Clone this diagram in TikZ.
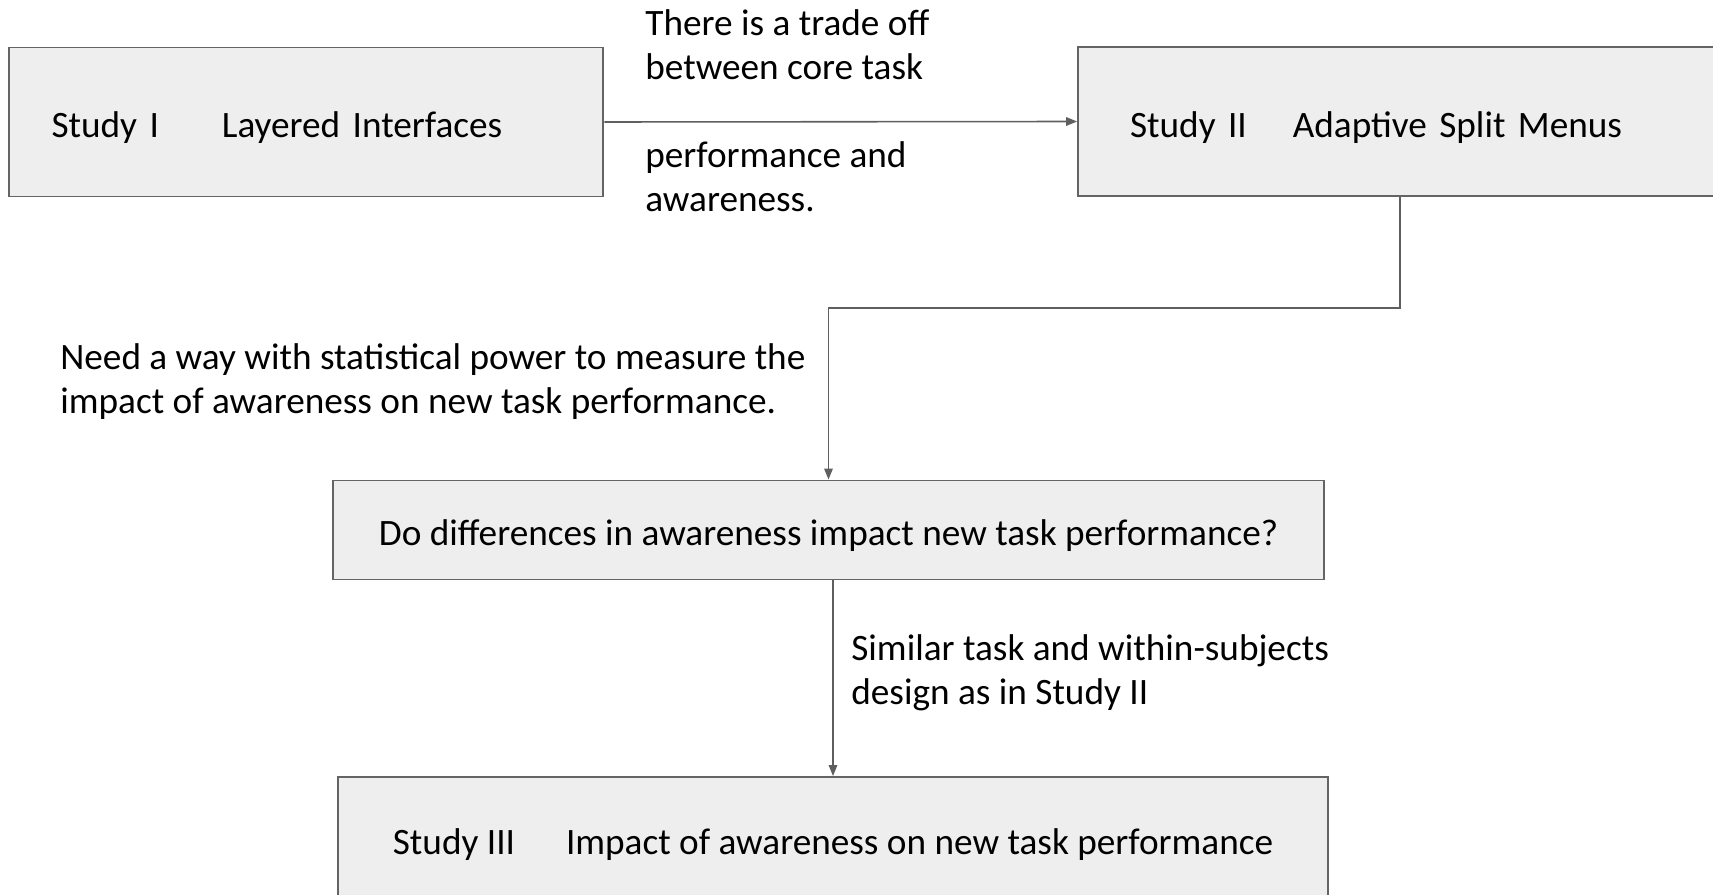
\documentclass[tikz,border=0pt]{standalone}
\usepackage{fontspec}
\setmainfont{Carlito}
\usetikzlibrary{arrows.meta,positioning}
\definecolor{boxfill}{RGB}{238,238,238}
\definecolor{boxline}{RGB}{100,100,100}
\definecolor{wire}{RGB}{95,95,95}
\tikzset{
  >={Triangle[length=2.2mm,width=1.7mm]},
  box/.style={draw=boxline,fill=boxfill,line width=1.1pt,align=left,
    text height=19pt,text depth=1pt,
    font=\fontsize{21.2}{25}\selectfont},
  flow/.style={->,draw=wire,line width=0.9pt},
  tag/.style={anchor=west,align=left,inner sep=0pt,font=\fontsize{21.2}{25}\selectfont},
}
\begin{document}
\begin{tikzpicture}[x=0.02cm,y=-0.02cm]
  \useasboundingbox (0,0) rectangle (1713,895);
  % studies and question
  \node[box,minimum width=11.9cm,minimum height=2.98cm,inner xsep=0.86cm,text width=10.18cm] (study1) at (306,122) {Study I\hspace{1.26cm}Layered Interfaces};
  \node[box,minimum width=13.64cm,minimum height=2.98cm,inner xsep=1.04cm,text width=11.56cm] (study2) at (1419,121.5) {Study II\hspace{0.92cm}Adaptive Split Menus};
  \node[box,align=center,minimum width=19.82cm,minimum height=1.98cm] (question) at (828.5,530) {Do differences in awareness impact new task performance?};
  \node[box,align=center,minimum width=19.8cm,minimum height=2.48cm] (study3) at (833,839) {Study III\hspace{1.02cm}Impact of awareness on new task performance};
  % labels
  \node[tag] (tradeoff) at (645,111) {There is a trade off\\between core task\\ \mbox{}\\performance and\\awareness.};
  \node[tag] (needway) at (60,382) {Need a way with statistical power to measure the\\impact of awareness on new task performance.};
  \node[tag] (similar) at (851,673) {Similar task and within-subjects\\design as in Study II};
  % connectors
  \coordinate (bend) at (1400,308);
  \draw[flow] (study1.east) -- (study2.west);
  \draw[flow] (study2.south -| bend) -- (bend) -| (question.north);
  \draw[flow] (question.south -| study3.north) -- (study3.north);
\end{tikzpicture}
\end{document}
